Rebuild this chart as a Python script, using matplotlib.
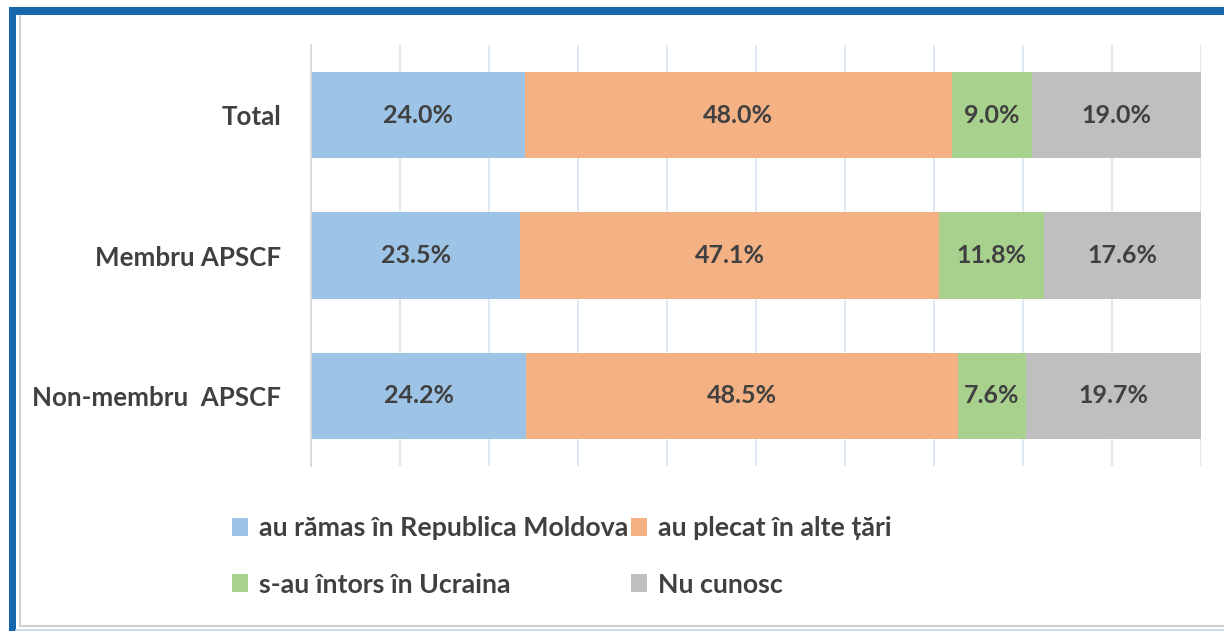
import matplotlib
matplotlib.use("Agg")
import matplotlib.pyplot as plt
from matplotlib.patches import Rectangle, Patch
from matplotlib.lines import Line2D

categories = ["Total", "Membru APSCF", "Non-membru  APSCF"]
series_names = ["au rămas în Republica Moldova", "au plecat în alte țări",
                "s-au întors în Ucraina", "Nu cunosc"]
values = {
    "au rămas în Republica Moldova": [24.0, 23.5, 24.2],
    "au plecat în alte țări": [48.0, 47.1, 48.5],
    "s-au întors în Ucraina": [9.0, 11.8, 7.6],
    "Nu cunosc": [19.0, 17.6, 19.7],
}
colors = ["#9DC3E6", "#F4B183", "#A9D18E", "#BFBFBF"]

FONT = ['Lato', 'DejaVu Sans']
plt.rcParams['font.family'] = FONT
TXT = "#404040"

fig = plt.figure(figsize=(12.24, 6.31), dpi=100)
ax = fig.add_axes([311/1224, 1-466/631, 890/1224, 421/631])

ypos = [2, 1, 0]
left = [0, 0, 0]
for name, c in zip(series_names, colors):
    vals = values[name]
    ax.barh(ypos, vals, left=left, height=0.615, color=c, zorder=2)
    for y, l, v in zip(ypos, left, vals):
        ax.text(l + v/2, y, f"{v:.1f}%", ha="center", va="center",
                fontsize=18, fontweight="bold", color=TXT, zorder=3)
    left = [a + b for a, b in zip(left, vals)]

ax.set_xlim(0, 100)
ax.set_ylim(-0.5, 2.5)
ax.set_xticks(range(0, 101, 10))
ax.xaxis.grid(True, color="#DCE6F2", linewidth=1.3, zorder=0)
ax.set_axisbelow(True)
ax.tick_params(axis="x", length=0, labelbottom=False)
ax.set_yticks(ypos)
ax.set_yticklabels(categories, fontsize=18.6, fontweight="bold", color=TXT)
ax.tick_params(axis="y", length=0, pad=21.5)
for s in ["top", "right", "bottom"]:
    ax.spines[s].set_visible(False)
ax.spines["left"].set_color("#D9D9D9")
ax.spines["left"].set_linewidth(1.3)

order = [0, 2, 1, 3]
handles = [Patch(facecolor=colors[i], edgecolor="none") for i in order]
labels = [series_names[i] for i in order]
leg = fig.legend(handles, labels, ncol=2, loc="upper left",
                 bbox_to_anchor=(219/1224, 1-503/631), frameon=False,
                 fontsize=19.3, handlelength=0.6, handleheight=0.65,
                 handletextpad=0.4, columnspacing=0.1, labelspacing=1.2,
                 borderpad=0)
for t in leg.get_texts():
    t.set_color(TXT)
    t.set_fontweight("bold")

# frame
W, H = 1224, 631
def fx(x): return x / W
def fy(y): return 1 - y / H
fig.add_artist(Line2D([fx(20), fx(20)], [fy(16), fy(626)], color="#D0D0D0", lw=1.5, transform=fig.transFigure))
fig.add_artist(Line2D([fx(20), fx(1224)], [fy(626), fy(626)], color="#D0D0D0", lw=1.5, transform=fig.transFigure))
fig.add_artist(Line2D([fx(16), fx(1224)], [fy(629.5), fy(629.5)], color="#BDD7EE", lw=1.2, transform=fig.transFigure))
fig.add_artist(Rectangle((fx(9), fy(631)), fx(7), fy(7) - fy(631), facecolor="#1667AE", edgecolor="none", transform=fig.transFigure))
fig.add_artist(Rectangle((fx(9), fy(15)), fx(1224) - fx(9), fy(7) - fy(15), facecolor="#1667AE", edgecolor="none", transform=fig.transFigure))

fig.savefig("out.png", dpi=100)
